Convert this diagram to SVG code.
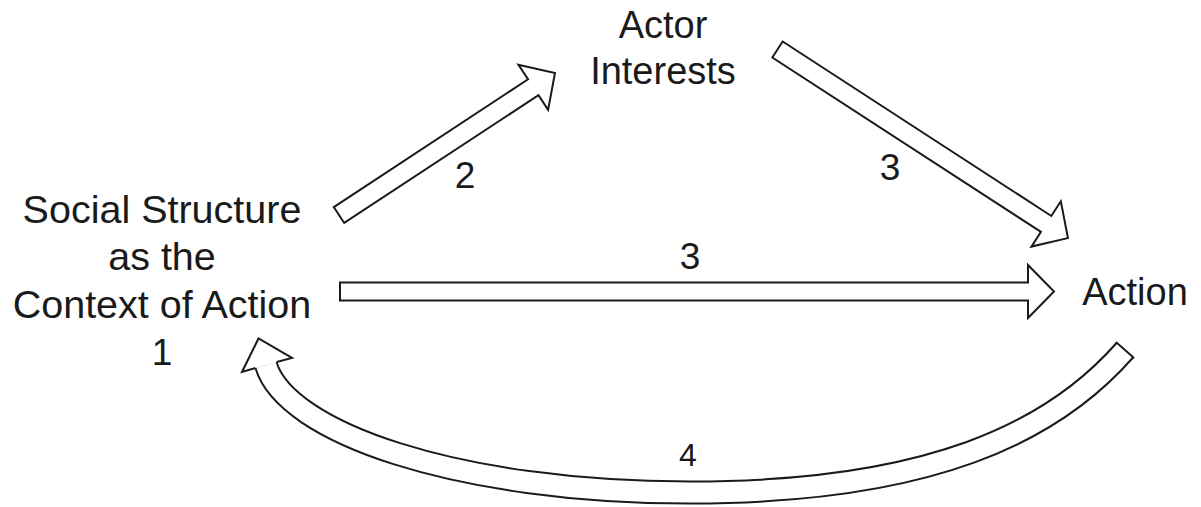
<svg xmlns="http://www.w3.org/2000/svg" width="1201" height="507" viewBox="0 0 1201 507">
<style>
.t{font-family:"Liberation Sans",Arial,sans-serif;fill:#1a1a1a;text-anchor:middle}
.n{font-size:39.5px}
.s{font-size:38px}
.d{font-size:37px}
.ar{fill:#fff;stroke:#1a1a1a;stroke-width:2;stroke-linejoin:miter}
</style>
<rect width="1201" height="507" fill="#fff"/>
<g id="node-social">
<text class="t n" x="162" y="223">Social Structure</text>
<text class="t n" x="162" y="270">as the</text>
<text class="t n" x="162" y="318">Context of Action</text>
<text class="t d" x="162" y="365">1</text>
</g>
<g id="node-actor">
<text class="t s" x="663" y="38">Actor</text>
<text class="t s" x="663" y="84">Interests</text>
</g>
<g id="node-action">
<text class="t s" x="1135" y="305">Action</text>
</g>
<g id="connectors">
<g id="edge-2">
<polygon class="ar" transform="translate(339,215) rotate(-33.33)" points="0,-9.5 232.5,-9.5 232.5,-27 258.5,0 232.5,27 232.5,9.5 0,9.5"/>
<text class="t d" x="465" y="188">2</text>
</g>
<g id="edge-3a">
<polygon class="ar" transform="translate(777.5,49.5) rotate(33.0)" points="0,-9.5 320.3,-9.5 320.3,-27 346.3,0 320.3,27 320.3,9.5 0,9.5"/>
<text class="t d" x="890" y="180">3</text>
</g>
<g id="edge-3b">
<polygon class="ar" points="340,282.5 1028,282.5 1028,265 1054,291.5 1028,318 1028,300.5 340,300.5"/>
<text class="t d" x="690" y="269">3</text>
</g>
<g id="edge-4">
<path d="M1125,350 C1052.5,432.8 930,492.5 690,492.5 C456,492.5 285.6,432 266,365" fill="none" stroke="#1a1a1a" stroke-width="24"/>
<path d="M1125,350 C1052.5,432.8 930,492.5 690,492.5 C456,492.5 285.6,432 266,365" fill="none" stroke="#fff" stroke-width="20"/>
<line x1="1116.7" y1="342.7" x2="1133.3" y2="357.3" stroke="#1a1a1a" stroke-width="2" stroke-linecap="square"/>
<path class="ar" d="M255.4,368 L242,372 L258.5,338.5 L292,358 L276.6,362"/>
<text class="t" style="font-size:32px" x="688" y="466">4</text>
</g>
</g>
</svg>
